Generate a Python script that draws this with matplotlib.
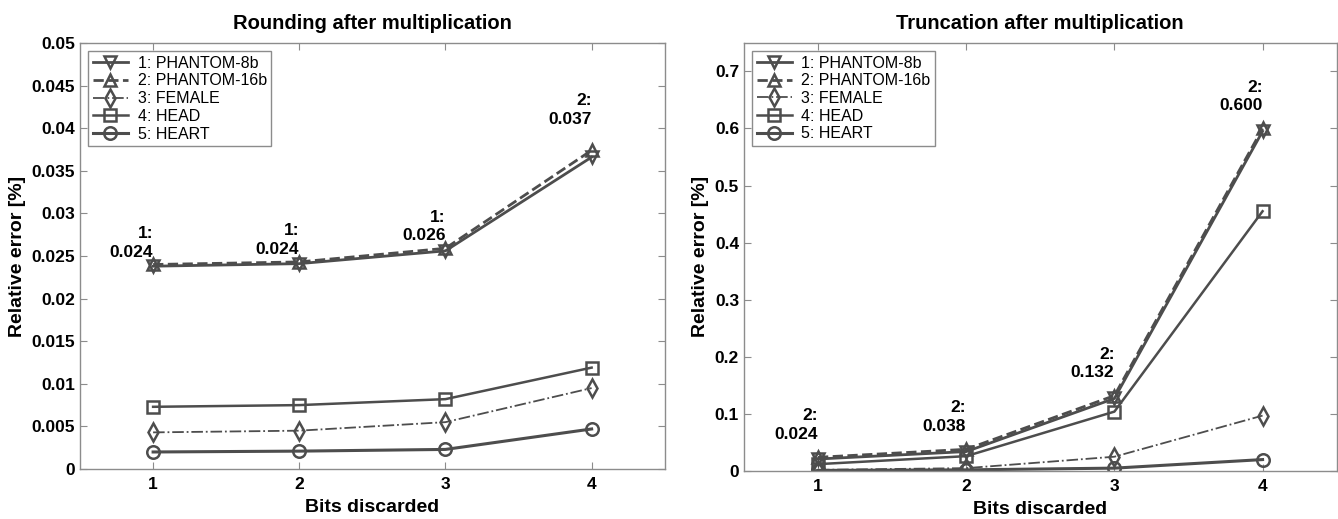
import numpy as np
import matplotlib.pyplot as plt

plt.rcParams['font.family'] = ['Liberation Sans', 'DejaVu Sans']

# --- DATA ---
bits = [1, 2, 3, 4]
series_names = ['1: PHANTOM-8b', '2: PHANTOM-16b', '3: FEMALE', '4: HEAD', '5: HEART']

rounding_phantom8 = [0.0238, 0.0241, 0.0256, 0.0366]
rounding_phantom16 = [0.0240, 0.0243, 0.0259, 0.0374]
rounding_female = [0.0043, 0.0045, 0.0055, 0.0095]
rounding_head = [0.0073, 0.0075, 0.0082, 0.0119]
rounding_heart = [0.0020, 0.0021, 0.0023, 0.0047]
rounding_labels = ['1:\n0.024', '1:\n0.024', '1:\n0.026', '2:\n0.037']
rounding_label_y = [0.0240, 0.0243, 0.0259, 0.0374]

trunc_phantom8 = [0.021, 0.034, 0.127, 0.595]
trunc_phantom16 = [0.024, 0.038, 0.132, 0.600]
trunc_female = [0.002, 0.005, 0.025, 0.097]
trunc_head = [0.012, 0.026, 0.104, 0.455]
trunc_heart = [0.001, 0.002, 0.005, 0.020]
trunc_labels = ['2:\n0.024', '2:\n0.038', '2:\n0.132', '2:\n0.600']
trunc_label_y = [0.024, 0.038, 0.132, 0.600]

GRAY = '#4d4d4d'
AXGRAY = '#8c8c8c'

styles = [
    dict(linestyle='-', marker='v', lw=2.0),
    dict(linestyle='--', marker='^', lw=2.0),
    dict(linestyle='-.', marker='d', lw=1.3),
    dict(linestyle='-', marker='s', lw=1.8),
    dict(linestyle='-', marker='o', lw=2.2),
]


def draw_panel(ax, series, labels, label_y, label_dy, title, ylim, yticks, ytick_fmt):
    for vals, name, st in zip(series, series_names, styles):
        ax.plot(bits, vals, color=GRAY, linestyle=st['linestyle'], lw=st['lw'],
                marker=st['marker'], markersize=9, markerfacecolor='none',
                markeredgecolor=GRAY, markeredgewidth=1.8, label=name)

    # text labels above the max points
    for x, y, txt, dy in zip(bits, label_y, labels, label_dy):
        ax.annotate(txt, (x, y), xytext=(0, dy), textcoords='offset points',
                    ha='right', va='bottom', fontsize=12.5, fontweight='bold',
                    linespacing=1.3)

    ax.set_xlim(0.5, 4.5)
    ax.set_ylim(*ylim)
    ax.set_xticks(bits)
    ax.set_yticks(yticks)
    ax.set_yticklabels([ytick_fmt(v) for v in yticks])
    ax.tick_params(direction='in', top=True, right=True, color=AXGRAY,
                   length=5, labelsize=12.5)
    ax.tick_params(axis='x', pad=6)
    for lab in ax.get_xticklabels() + ax.get_yticklabels():
        lab.set_fontweight('bold')
    for sp in ax.spines.values():
        sp.set_color(AXGRAY)
        sp.set_linewidth(1.0)

    ax.set_title(title, fontsize=14.5, fontweight='bold', pad=10)
    ax.set_xlabel('Bits discarded', fontsize=14, fontweight='bold', labelpad=5)
    ax.set_ylabel('Relative error [%]', fontsize=14, fontweight='bold', labelpad=4)

    leg = ax.legend(loc='upper left', fontsize=11.5, handlelength=2.2,
                    borderaxespad=0.5, labelspacing=0.17, fancybox=False,
                    framealpha=1, borderpad=0.3, handletextpad=0.6)
    leg.get_frame().set_edgecolor(AXGRAY)
    leg.get_frame().set_linewidth(1.0)


fig = plt.figure(figsize=(13.38, 5.19), dpi=100)
ax1 = fig.add_axes([0.0598, 0.0963, 0.437, 0.821])
ax2 = fig.add_axes([0.556, 0.0925, 0.443, 0.825])

draw_panel(ax1,
           [rounding_phantom8, rounding_phantom16, rounding_female, rounding_head, rounding_heart],
           rounding_labels, rounding_label_y, [3.5, 3.5, 3.5, 17],
           'Rounding after multiplication',
           (0, 0.05), np.arange(0, 0.0501, 0.005),
           lambda v: '0' if v == 0 else ('%.3f' % v).rstrip('0'))

draw_panel(ax2,
           [trunc_phantom8, trunc_phantom16, trunc_female, trunc_head, trunc_heart],
           trunc_labels, trunc_label_y, [11, 11, 11, 11],
           'Truncation after multiplication',
           (0, 0.75), np.arange(0, 0.71, 0.1),
           lambda v: '0' if v == 0 else '%.1f' % v)

fig.savefig('out.png', dpi=100)
